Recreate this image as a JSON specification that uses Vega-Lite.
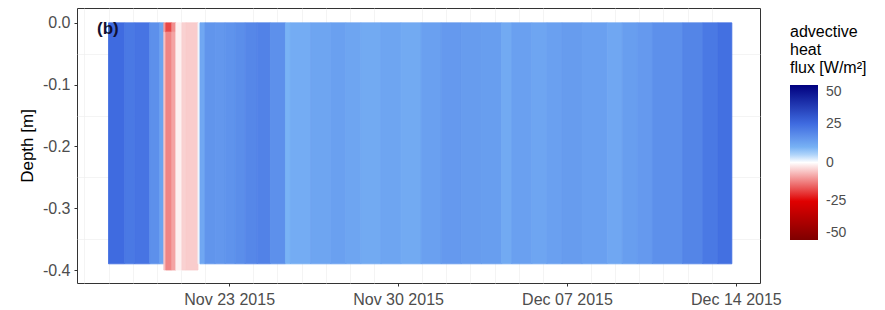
{
  "$schema": "https://vega.github.io/schema/vega-lite/v6.json",
  "width": 683,
  "height": 275,
  "autosize": {"type": "none"},
  "padding": {"left": 77, "top": 8, "right": 125, "bottom": 27},
  "background": "white",
  "config": {"view": {"stroke": "#333333", "strokeWidth": 1}, "font": "Liberation Sans", "axis": {"labelOverlap": false}},
  "datasets": {
    "cells": [
      {"t": "2015-11-18T00:00", "t2": "2015-11-18T16:00", "top": 0, "bottom": -0.39, "flux": 25},
      {"t": "2015-11-18T16:00", "t2": "2015-11-19T02:00", "top": 0, "bottom": -0.39, "flux": 22},
      {"t": "2015-11-19T02:00", "t2": "2015-11-19T17:00", "top": 0, "bottom": -0.39, "flux": 23},
      {"t": "2015-11-19T17:00", "t2": "2015-11-20T03:00", "top": 0, "bottom": -0.39, "flux": 17},
      {"t": "2015-11-20T03:00", "t2": "2015-11-20T07:00", "top": 0, "bottom": -0.39, "flux": 13},
      {"t": "2015-11-20T07:00", "t2": "2015-11-20T09:00", "top": 0, "bottom": -0.015, "flux": -10},
      {"t": "2015-11-20T07:00", "t2": "2015-11-20T09:00", "top": -0.015, "bottom": -0.4, "flux": -6},
      {"t": "2015-11-20T09:00", "t2": "2015-11-20T15:00", "top": 0, "bottom": -0.015, "flux": -18},
      {"t": "2015-11-20T09:00", "t2": "2015-11-20T15:00", "top": -0.015, "bottom": -0.4, "flux": -12},
      {"t": "2015-11-20T15:00", "t2": "2015-11-20T19:00", "top": 0, "bottom": -0.015, "flux": -11},
      {"t": "2015-11-20T15:00", "t2": "2015-11-20T19:00", "top": -0.015, "bottom": -0.4, "flux": -9},
      {"t": "2015-11-20T19:00", "t2": "2015-11-21T01:00", "top": 0, "bottom": -0.4, "flux": -1.5},
      {"t": "2015-11-21T01:00", "t2": "2015-11-21T05:00", "top": 0, "bottom": -0.4, "flux": -4.5},
      {"t": "2015-11-21T05:00", "t2": "2015-11-21T17:00", "top": 0, "bottom": -0.4, "flux": -5},
      {"t": "2015-11-21T17:00", "t2": "2015-11-21T19:00", "top": 0, "bottom": -0.39, "flux": 1},
      {"t": "2015-11-21T19:00", "t2": "2015-11-22T00:00", "top": 0, "bottom": -0.39, "flux": 12},
      {"t": "2015-11-22T00:00", "t2": "2015-11-22T10:00", "top": 0, "bottom": -0.39, "flux": 16},
      {"t": "2015-11-22T10:00", "t2": "2015-11-22T20:00", "top": 0, "bottom": -0.39, "flux": 15.5},
      {"t": "2015-11-22T20:00", "t2": "2015-11-23T06:00", "top": 0, "bottom": -0.39, "flux": 16.5},
      {"t": "2015-11-23T06:00", "t2": "2015-11-23T16:00", "top": 0, "bottom": -0.39, "flux": 17.5},
      {"t": "2015-11-23T16:00", "t2": "2015-11-24T04:00", "top": 0, "bottom": -0.39, "flux": 19},
      {"t": "2015-11-24T04:00", "t2": "2015-11-24T17:00", "top": 0, "bottom": -0.39, "flux": 20},
      {"t": "2015-11-24T17:00", "t2": "2015-11-25T08:00", "top": 0, "bottom": -0.39, "flux": 17},
      {"t": "2015-11-25T08:00", "t2": "2015-11-25T13:00", "top": 0, "bottom": -0.39, "flux": 9.5},
      {"t": "2015-11-25T13:00", "t2": "2015-11-26T09:00", "top": 0, "bottom": -0.39, "flux": 11},
      {"t": "2015-11-26T09:00", "t2": "2015-11-27T05:00", "top": 0, "bottom": -0.39, "flux": 12.5},
      {"t": "2015-11-27T05:00", "t2": "2015-11-27T20:00", "top": 0, "bottom": -0.39, "flux": 13.5},
      {"t": "2015-11-27T20:00", "t2": "2015-11-28T11:00", "top": 0, "bottom": -0.39, "flux": 12.5},
      {"t": "2015-11-28T11:00", "t2": "2015-11-29T07:00", "top": 0, "bottom": -0.39, "flux": 11.5},
      {"t": "2015-11-29T07:00", "t2": "2015-11-30T03:00", "top": 0, "bottom": -0.39, "flux": 12.5},
      {"t": "2015-11-30T03:00", "t2": "2015-11-30T23:00", "top": 0, "bottom": -0.39, "flux": 11.5},
      {"t": "2015-11-30T23:00", "t2": "2015-12-01T19:00", "top": 0, "bottom": -0.39, "flux": 13.5},
      {"t": "2015-12-01T19:00", "t2": "2015-12-02T15:00", "top": 0, "bottom": -0.39, "flux": 15},
      {"t": "2015-12-02T15:00", "t2": "2015-12-03T11:00", "top": 0, "bottom": -0.39, "flux": 14.5},
      {"t": "2015-12-03T11:00", "t2": "2015-12-04T07:00", "top": 0, "bottom": -0.39, "flux": 14},
      {"t": "2015-12-04T07:00", "t2": "2015-12-04T17:00", "top": 0, "bottom": -0.39, "flux": 11.5},
      {"t": "2015-12-04T17:00", "t2": "2015-12-05T13:00", "top": 0, "bottom": -0.39, "flux": 13.5},
      {"t": "2015-12-05T13:00", "t2": "2015-12-06T04:00", "top": 0, "bottom": -0.39, "flux": 12.5},
      {"t": "2015-12-06T04:00", "t2": "2015-12-06T19:00", "top": 0, "bottom": -0.39, "flux": 13.5},
      {"t": "2015-12-06T19:00", "t2": "2015-12-07T15:00", "top": 0, "bottom": -0.39, "flux": 14.5},
      {"t": "2015-12-07T15:00", "t2": "2015-12-08T16:00", "top": 0, "bottom": -0.39, "flux": 13.5},
      {"t": "2015-12-08T16:00", "t2": "2015-12-09T07:00", "top": 0, "bottom": -0.39, "flux": 12},
      {"t": "2015-12-09T07:00", "t2": "2015-12-09T22:00", "top": 0, "bottom": -0.39, "flux": 14},
      {"t": "2015-12-09T22:00", "t2": "2015-12-10T13:00", "top": 0, "bottom": -0.39, "flux": 15},
      {"t": "2015-12-10T13:00", "t2": "2015-12-11T19:00", "top": 0, "bottom": -0.39, "flux": 17},
      {"t": "2015-12-11T19:00", "t2": "2015-12-12T15:00", "top": 0, "bottom": -0.39, "flux": 19.5},
      {"t": "2015-12-12T15:00", "t2": "2015-12-13T06:00", "top": 0, "bottom": -0.39, "flux": 22},
      {"t": "2015-12-13T06:00", "t2": "2015-12-13T20:00", "top": 0, "bottom": -0.39, "flux": 24}
    ],
    "labels": [
      {"t": "2015-11-17T12:33", "depth": -0.0097, "label": "(b)"}
    ]
  },
  "resolve": {"axis": {"x": "independent", "y": "independent"}},
  "layer": [
    {
      "data": {"name": "cells"},
      "mark": {"type": "rect", "strokeWidth": 0.8, "stroke": {"expr": "scale('fill', datum.flux)"}},
      "encoding": {
        "x": {
          "field": "t", "type": "temporal", "title": null,
          "scale": {"domain": [{"year": 2015, "month": 11, "date": 16, "hours": 16, "minutes": 40}, {"year": 2015, "month": 12, "date": 15}]},
          "axis": {
            "orient": "bottom",
            "values": [
              {"year": 2015, "month": 11, "date": 17}, {"year": 2015, "month": 11, "date": 18}, {"year": 2015, "month": 11, "date": 19},
              {"year": 2015, "month": 11, "date": 20}, {"year": 2015, "month": 11, "date": 21}, {"year": 2015, "month": 11, "date": 22},
              {"year": 2015, "month": 11, "date": 24}, {"year": 2015, "month": 11, "date": 25},
              {"year": 2015, "month": 11, "date": 26}, {"year": 2015, "month": 11, "date": 27}, {"year": 2015, "month": 11, "date": 28},
              {"year": 2015, "month": 11, "date": 29}, {"year": 2015, "month": 12, "date": 1},
              {"year": 2015, "month": 12, "date": 2}, {"year": 2015, "month": 12, "date": 3}, {"year": 2015, "month": 12, "date": 4},
              {"year": 2015, "month": 12, "date": 5}, {"year": 2015, "month": 12, "date": 6},
              {"year": 2015, "month": 12, "date": 8}, {"year": 2015, "month": 12, "date": 9}, {"year": 2015, "month": 12, "date": 10},
              {"year": 2015, "month": 12, "date": 11}, {"year": 2015, "month": 12, "date": 12}, {"year": 2015, "month": 12, "date": 13}
            ],
            "labels": false,
            "ticks": false,
            "domain": false,
            "gridColor": "#ededed",
            "gridWidth": 0.6
          }
        },
        "x2": {"field": "t2"},
        "y": {
          "field": "top", "type": "quantitative", "title": null,
          "scale": {"domain": [-0.421, 0.024], "nice": false, "zero": false},
          "axis": {
            "orient": "left",
            "values": [-0.35, -0.25, -0.15, -0.05],
            "labels": false,
            "ticks": false,
            "domain": false,
            "gridColor": "#ededed",
            "gridWidth": 0.6
          }
        },
        "y2": {"field": "bottom"},
        "fill": {
          "field": "flux", "type": "quantitative",
          "scale": {"domain": [-50, -25, 0, 8, 25, 50], "range": ["#7f0000", "#e00000", "#ffffff", "#7fbaf7", "#3f6be0", "#00007f"], "interpolate": "rgb"},
          "legend": {
            "type": "gradient",
            "orient": "none", "legendX": 713, "legendY": 16,
            "title": ["advective", "heat", "flux [W/m²]"],
            "titleFontSize": 16, "titleFontWeight": "normal", "titleColor": "black", "titleLineHeight": 18, "titlePadding": 9,
            "gradientLength": 155, "gradientThickness": 28, "gradientStrokeWidth": 0,
            "values": [-50, -25, 0, 25, 50],
            "labelExpr": "replace(datum.label, '−', '-')",
            "labelFontSize": 14, "labelColor": "#4d4d4d", "labelOffset": 8,
            "direction": "vertical"
          }
        }
      }
    },
    {
      "data": {"name": "labels"},
      "mark": {"type": "text", "align": "left", "baseline": "middle", "fontWeight": "bold", "fontSize": 17, "color": "#111133"},
      "encoding": {
        "x": {
          "field": "t", "type": "temporal", "title": null,
          "axis": {
            "orient": "bottom",
            "values": [
              {"year": 2015, "month": 11, "date": 23}, {"year": 2015, "month": 11, "date": 30},
              {"year": 2015, "month": 12, "date": 7}, {"year": 2015, "month": 12, "date": 14}
            ],
            "format": "%b %d %Y",
            "labelOverlap": false,
            "labelFlush": false,
            "labelBound": false,
            "labelFontSize": 16,
            "labelColor": "#4d4d4d",
            "labelPadding": 5,
            "domain": false,
            "tickColor": "#333333",
            "tickSize": 3,
            "gridColor": "#ebebeb",
            "gridWidth": 1.1
          }
        },
        "y": {
          "field": "depth", "type": "quantitative", "title": "Depth [m]",
          "axis": {
            "orient": "left",
            "values": [-0.4, -0.3, -0.2, -0.1, 0],
            "labelExpr": "replace(format(datum.value, '.1f'), '−', '-')",
            "labelOverlap": false,
            "labelFlush": false,
            "labelFontSize": 16,
            "labelColor": "#4d4d4d",
            "labelPadding": 4,
            "domain": false,
            "tickColor": "#333333",
            "tickSize": 3,
            "gridColor": "#ebebeb",
            "gridWidth": 1.1,
            "titleFontSize": 17,
            "titleFontWeight": "normal",
            "titleColor": "black",
            "titlePadding": 6
          }
        },
        "text": {"field": "label"}
      }
    }
  ]
}
